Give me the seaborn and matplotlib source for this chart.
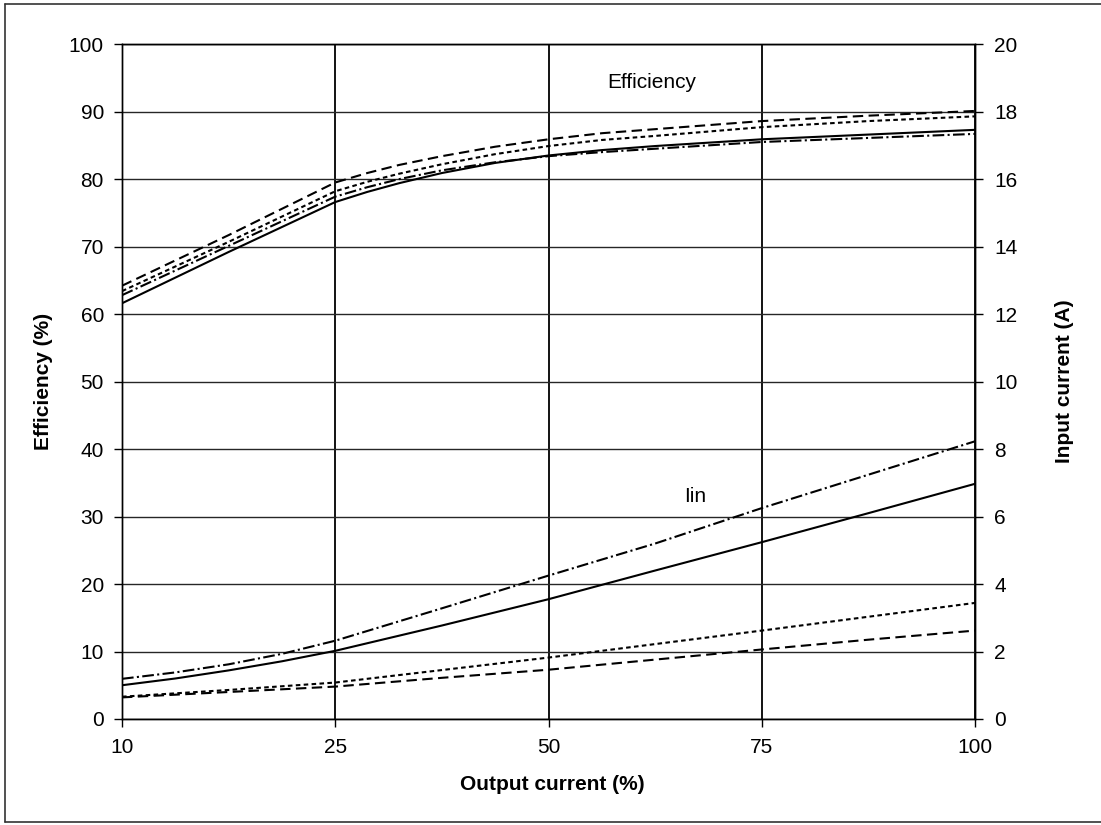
import numpy as np
import pandas as pd
import matplotlib
matplotlib.use("Agg")
import matplotlib.pyplot as plt
import seaborn as sns
from matplotlib.lines import Line2D

# ---------------- data ----------------
x_ticks = [10, 25, 50, 75, 100]

# efficiency curves (left axis, %)
eff_x = [10, 17.5, 25, 28.75, 32.5, 37.5, 43.75, 50, 56.25, 62.5, 75, 87.5, 100]
eff_long_dash = [64.2, 71.7, 79.5, 80.9, 82.1, 83.4, 84.8, 85.9, 86.8, 87.4, 88.6, 89.4, 90.1]
eff_short_dash = [63.4, 70.7, 78.2, 79.6, 80.8, 82.2, 83.7, 84.9, 85.8, 86.4, 87.7, 88.6, 89.3]
eff_dash_dot = [62.8, 70.1, 77.4, 78.8, 80.0, 81.3, 82.5, 83.4, 84.0, 84.5, 85.5, 86.1, 86.7]
eff_solid = [61.6, 69.2, 76.6, 78.1, 79.4, 80.9, 82.4, 83.5, 84.3, 84.9, 85.9, 86.6, 87.3]

# input current curves (right axis, A)
iin_x = [10, 13.75, 17.5, 21.25, 25, 37.5, 50, 62.5, 75, 87.5, 100]
iin_dash_dot = [1.19, 1.38, 1.62, 1.93, 2.32, 3.28, 4.25, 5.20, 6.25, 7.24, 8.23]
iin_solid = [1.00, 1.20, 1.44, 1.71, 2.02, 2.77, 3.55, 4.40, 5.24, 6.10, 6.97]
iin_short_dash = [0.66, 0.76, 0.86, 0.97, 1.08, 1.45, 1.82, 2.22, 2.62, 3.03, 3.44]
iin_long_dash = [0.64, 0.72, 0.80, 0.88, 0.96, 1.22, 1.46, 1.76, 2.06, 2.35, 2.62]

styles = ["long", "short", "dashdot", "solid"]

eff_df = pd.concat([
    pd.DataFrame({"x": eff_x, "y": v, "curve": s})
    for s, v in zip(styles, [eff_long_dash, eff_short_dash, eff_dash_dot, eff_solid])
])
iin_df = pd.concat([
    pd.DataFrame({"x": iin_x, "y": v, "curve": s})
    for s, v in zip(styles, [iin_long_dash, iin_short_dash, iin_dash_dot, iin_solid])
])

dash_map = {
    "long": (5.0, 2.6),
    "short": (2.2, 1.6),
    "dashdot": (5.6, 1.6, 1.0, 1.6),
    "solid": "",
}

# ---------------- styling ----------------
sns.set_theme(style="ticks")
plt.rcParams["font.family"] = ["Liberation Sans", "DejaVu Sans"]
plt.rcParams["axes.linewidth"] = 1.0

FS = 15

# category-like x axis: 10, 25, 50, 75, 100 equally spaced
_cat = np.array(x_ticks, dtype=float)
_pos = np.arange(len(x_ticks), dtype=float)


def fwd(x):
    x = np.asarray(x, dtype=float)
    out = np.interp(x, _cat, _pos)
    out = np.where(x < _cat[0], (x - _cat[0]) / (_cat[1] - _cat[0]), out)
    out = np.where(x > _cat[-1], _pos[-1] + (x - _cat[-1]) / (_cat[-1] - _cat[-2]), out)
    return out


def inv(p):
    p = np.asarray(p, dtype=float)
    out = np.interp(p, _pos, _cat)
    out = np.where(p < _pos[0], _cat[0] + p * (_cat[1] - _cat[0]), out)
    out = np.where(p > _pos[-1], _cat[-1] + (p - _pos[-1]) * (_cat[-1] - _cat[-2]), out)
    return out


fig = plt.figure(figsize=(11.01, 8.25), dpi=100)
fig.patch.set_facecolor("white")
ax = fig.add_axes([0.1108, 0.1285, 0.7748, 0.818])
ax.set_xscale("function", functions=(fwd, inv))
ax2 = ax.twinx()

sns.lineplot(data=eff_df, x="x", y="y", style="curve", dashes=dash_map,
             color="black", linewidth=1.5, legend=False, ax=ax, sort=True,
             estimator=None)
sns.lineplot(data=iin_df, x="x", y="y", style="curve", dashes=dash_map,
             color="black", linewidth=1.5, legend=False, ax=ax2, sort=True,
             estimator=None)

ax.set_xlim(10, 100)
ax.set_ylim(0, 100)
ax2.set_ylim(0, 20)

ax.xaxis.set_major_locator(matplotlib.ticker.FixedLocator(x_ticks))
ax.xaxis.set_minor_locator(matplotlib.ticker.NullLocator())
ax.set_xticklabels([str(t) for t in x_ticks])
ax.set_yticks(np.arange(0, 101, 10))
ax2.set_yticks(np.arange(0, 21, 2))

ax.tick_params(axis="both", which="major", direction="out", length=6,
               width=1.0, color="black", labelsize=FS, labelcolor="black")
ax.tick_params(axis="y", pad=7)
ax.tick_params(axis="x", pad=8)
ax2.tick_params(axis="y", direction="out", length=6, width=1.0,
                color="black", labelsize=FS, labelcolor="black", pad=8)

ax.grid(True, axis="y", color="#262626", linewidth=1.0)
ax.grid(True, axis="x", color="black", linewidth=1.3)
ax.set_axisbelow(True)

for sp in list(ax.spines.values()) + list(ax2.spines.values()):
    sp.set_color("black")
    sp.set_linewidth(1.0)

ax.set_xlabel("Output current (%)", fontsize=FS, fontweight="bold", color="black")
ax.set_ylabel("Efficiency (%)", fontsize=FS, fontweight="bold", color="black")
ax2.set_ylabel("Input current (A)", fontsize=FS, fontweight="bold", color="black")
ax.xaxis.set_label_coords(0.505, -0.083)
ax.yaxis.set_label_coords(-0.081, 0.5)
ax2.yaxis.set_label_coords(1.094, 0.5)

ax.text(62.1, 94.3, "Efficiency", fontsize=FS, ha="center", va="center", color="black")
ax.text(67.2, 32.9, "Iin", fontsize=FS, ha="center", va="center", color="black")

# scanned page frame
frame_kw = dict(color="#333333", linewidth=1.2, transform=fig.transFigure)
fig.add_artist(Line2D([0.0045, 0.0045], [0.0036, 0.995], **frame_kw))
fig.add_artist(Line2D([0.0045, 1.0], [0.995, 0.995], **frame_kw))
fig.add_artist(Line2D([0.0045, 1.0], [0.0036, 0.0036], **frame_kw))

fig.savefig("out.png", dpi=100, facecolor="white")
